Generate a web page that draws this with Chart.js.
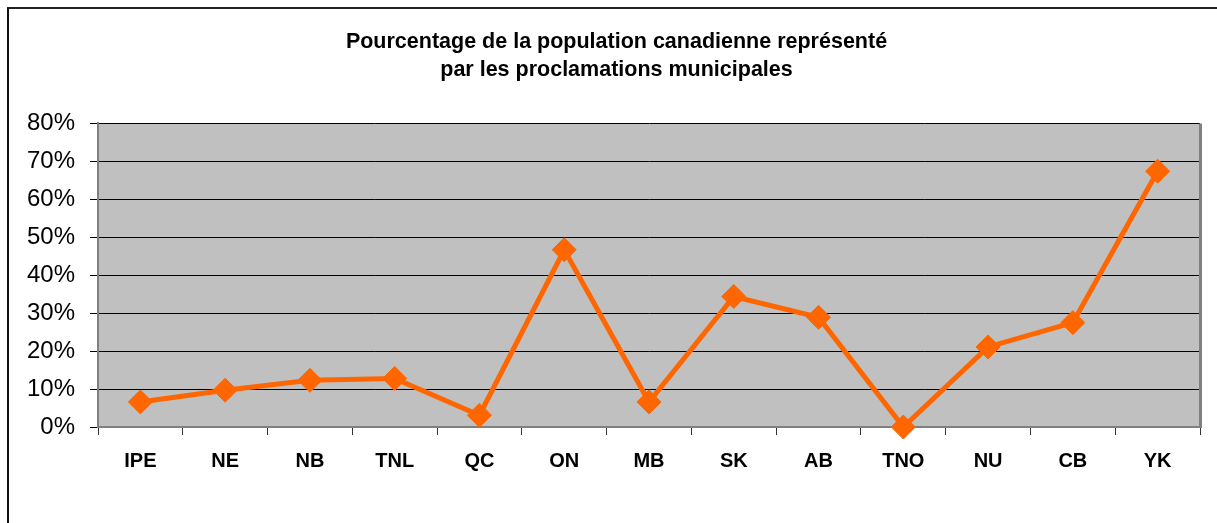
<!DOCTYPE html>
<html lang="fr">
<head>
  <meta charset="UTF-8">
  <script src="https://cdn.jsdelivr.net/npm/chart.js"></script>
  <title>Proclamations municipales</title>
  <style>
    body { margin: 0; background: #fff; }
    #wrap { position: relative; width: 1217px; height: 523px; }
    #frame { position: absolute; left: 7px; top: 7px; right: 0; bottom: 0; border-top: 2px solid #222; border-left: 2px solid #111; pointer-events: none; }
  </style>
</head>
<body>
  <div id="wrap">
    <canvas id="chart" width="1217" height="523"></canvas>
    <div id="frame"></div>
  </div>

  <script>
    const provinces = ["IPE", "NE", "NB", "TNL", "QC", "ON", "MB", "SK", "AB", "TNO", "NU", "CB", "YK"];
    const pourcentages = [6.6, 9.7, 12.3, 12.8, 3.1, 46.7, 6.6, 34.4, 28.9, 0, 21.1, 27.5, 67.4];
    const titre = ["Pourcentage de la population canadienne représenté", "par les proclamations municipales"];

    // grey plot background + right edge of the plot frame
    const plotArea = {
      id: "plotArea",
      afterLayout(chart) {
        // the original frame runs past the right edge, so the title sits a bit right of centre
        if (chart.titleBlock) chart.titleBlock.left += 33;
      },
      beforeDraw(chart) {
        const { ctx, chartArea: a } = chart;
        ctx.save();
        ctx.fillStyle = "#c0c0c0";
        ctx.fillRect(a.left, a.top, a.right - a.left, a.bottom - a.top);
        ctx.restore();
      },
      afterDraw(chart) {
        const { ctx, chartArea: a } = chart;
        ctx.save();
        ctx.strokeStyle = "#808080";
        ctx.lineWidth = 3;
        ctx.beginPath();
        ctx.moveTo(a.right + 0.5, a.top);
        ctx.lineTo(a.right + 0.5, a.bottom + 1);
        ctx.stroke();
        ctx.restore();
      }
    };

    new Chart(document.getElementById("chart"), {
      type: "line",
      data: {
        labels: provinces,
        datasets: [{
          data: pourcentages,
          borderColor: "#ff6600",
          backgroundColor: "#ff6600",
          borderWidth: 5,
          pointStyle: "rectRot",
          pointRadius: 12,
          pointBorderWidth: 1,
          pointBackgroundColor: "#ff6600",
          pointBorderColor: "#ff6600",
          tension: 0,
          clip: false
        }]
      },
      options: {
        responsive: false,
        animation: false,
        layout: { padding: { left: 0, right: 17, top: 0, bottom: 0 } },
        plugins: {
          legend: { display: false },
          tooltip: { enabled: false },
          title: {
            display: true,
            text: titre,
            color: "#000",
            font: { family: "Liberation Sans, Arial", size: 21.5, weight: "bold", lineHeight: 1.3 },
            padding: { top: 28.5, bottom: 39 }
          }
        },
        scales: {
          x: {
            offset: true,
            afterFit(scale) { scale.height = 96; },
            grid: { offset: true, drawOnChartArea: false, drawTicks: true, tickLength: 8, color: "#333", lineWidth: 1 },
            border: { color: "#808080", width: 2 },
            ticks: { color: "#000", padding: 14, font: { family: "Liberation Sans, Arial", size: 20, weight: "bold" } }
          },
          y: {
            min: 0,
            max: 80,
            afterFit(scale) { scale.width = 98; },
            grid: { color: "#000", lineWidth: 1, tickLength: 8, drawTicks: true },
            border: { color: "#808080", width: 2 },
            ticks: {
              stepSize: 10,
              color: "#000",
              padding: 15,
              font: { family: "Liberation Sans, Arial", size: 24 },
              callback: v => v + "%"
            }
          }
        }
      },
      plugins: [plotArea]
    });
  </script>
</body>
</html>
